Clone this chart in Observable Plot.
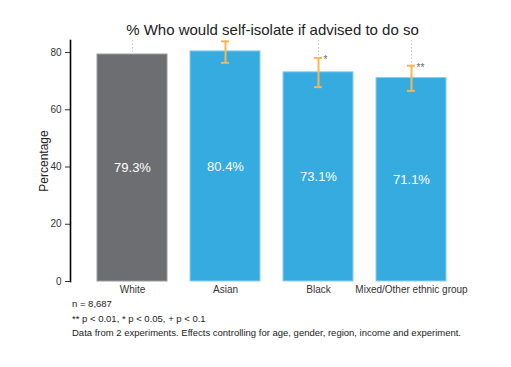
<!DOCTYPE html>
<html>
<head>
<meta charset="utf-8">
<script src="https://cdn.jsdelivr.net/npm/d3@7"></script>
<script src="https://cdn.jsdelivr.net/npm/@observablehq/plot@0.6"></script>
<style>
  body { margin: 0; background: #fff; font-family: "Liberation Sans", Arial, sans-serif; }
  #wrap { width: 511px; position: relative; }
  .title { height: 38px; box-sizing: border-box; padding-top: 22px; padding-left: 34px; text-align: center; font-size: 15px; color: #222; line-height: 16px; }
  .foot { padding-left: 72px; font-size: 9.5px; color: #222; line-height: 14.5px; margin-top: 2px; }
  .ylabel { position: absolute; left: 44px; top: 161px; transform: translate(-50%, -50%) rotate(-90deg); font-size: 12px; color: #222; white-space: nowrap; }
  svg { display: block; }
</style>
</head>
<body>
<div id="wrap">
  <div class="title">% Who would self-isolate if advised to do so</div>
  <div class="ylabel">Percentage</div>
  <div id="chart"></div>
  <div class="foot">
    <div>n = 8,687</div>
    <div>** p &lt; 0.01, * p &lt; 0.05, + p &lt; 0.1</div>
    <div>Data from 2 experiments. Effects controlling for age, gender, region, income and experiment.</div>
  </div>
</div>
<script>
const categories = ["White", "Asian", "Black", "Mixed/Other ethnic group"];
const values = [79.3, 80.4, 73.1, 71.1];
const lower = [null, 76.4, 67.9, 66.6];
const upper = [null, 83.9, 78.1, 75.4];
const stars = ["", "", "*", "**"];
const colors = ["#6d6e71", "#35abe0", "#35abe0", "#35abe0"];
const yTicks = [0, 20, 40, 60, 80];

const data = categories.map((c, i) => ({
  cat: c, value: values[i], lo: lower[i], hi: upper[i], star: stars[i], color: colors[i]
}));
const errs = data.filter(d => d.lo != null);

const chart = Plot.plot({
  width: 511,
  height: 257,
  marginTop: 2,
  marginLeft: 70,
  marginRight: 41,
  marginBottom: 14,
  style: { fontFamily: "Liberation Sans, Arial, sans-serif", fontSize: "10px", color: "#333", background: "#fff" },
  x: { domain: categories, padding: 0.25, insetLeft: 3.5, label: null, tickSize: 0, tickPadding: 4 },
  y: { domain: [0, 84.2], ticks: yTicks, label: null, tickSize: 5 },
  marks: [
    Plot.ruleX(categories, { stroke: "#c8c8c8", strokeDasharray: "1.5,2" }),
    Plot.barY(data, { x: "cat", y: "value", fill: "color", stroke: d => d.cat === "White" ? "#9a9b9d" : "#8fd0ee", strokeWidth: 1 }),
    Plot.text(data, { x: "cat", y: d => d.value / 2, text: d => d.value.toFixed(1) + "%", fill: "white", fontSize: 13 }),
    Plot.ruleX(errs, { x: "cat", y1: "lo", y2: "hi", stroke: "#f9b553", strokeWidth: 2 }),
    Plot.tickY(errs, { x: "cat", y: "lo", stroke: "#f9b553", strokeWidth: 2, insetLeft: 31, insetRight: 31 }),
    Plot.tickY(errs, { x: "cat", y: "hi", stroke: "#f9b553", strokeWidth: 2, insetLeft: 31, insetRight: 31 }),
    Plot.text(errs, { x: "cat", y: "hi", text: "star", textAnchor: "start", dx: 5, dy: 2, fill: "#666", fontSize: 10 }),
    Plot.frame({ anchor: "left", stroke: "#000", strokeWidth: 1.6, strokeOpacity: 1 })
  ]
});
document.getElementById("chart").appendChild(chart);
</script>
</body>
</html>
